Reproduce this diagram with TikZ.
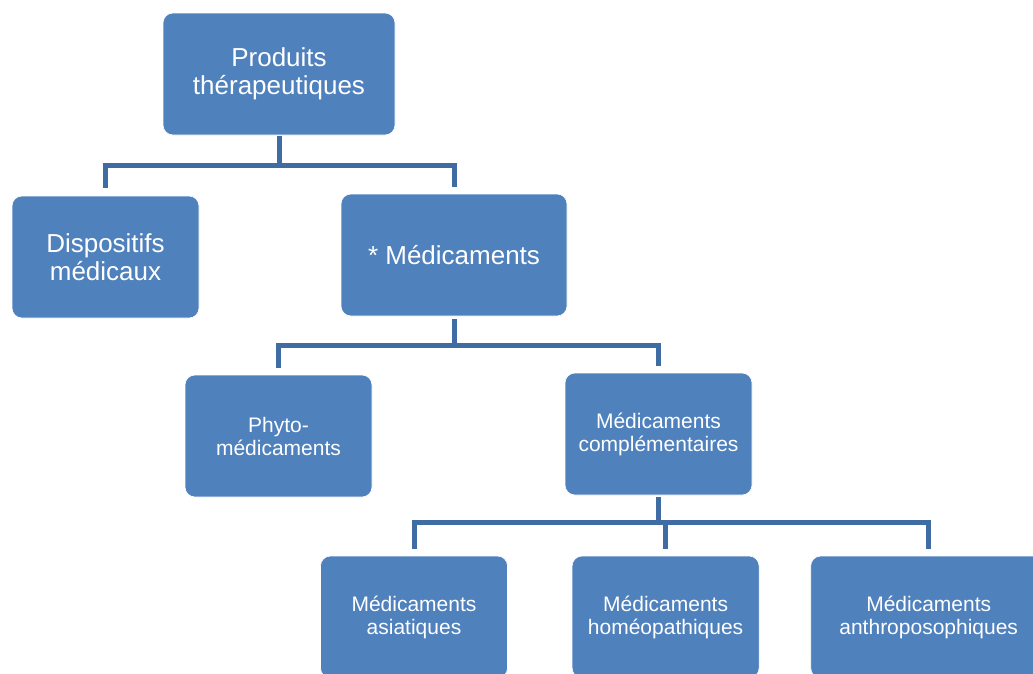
\documentclass[tikz,border=0pt]{standalone}
\usepackage{fontspec}
\setmainfont{Liberation Sans}
\usepackage{tikz}
\usetikzlibrary{positioning}
\definecolor{boxblue}{RGB}{79,129,189}
\definecolor{linkblue}{RGB}{64,108,164}

\begin{document}
\begin{tikzpicture}[x=1pt,y=-1pt,node distance = 60pt,line width=5pt]
\tikzstyle{v}=[draw=white,line width=0.6pt,fill=boxblue,text=white,rounded corners=10pt,
  align=center,inner sep=0pt,minimum height=122pt,minimum width=187pt]
\tikzstyle{big}=[v,font=\fontsize{26}{28}\selectfont]
\tikzstyle{small}=[v,font=\fontsize{21}{23}\selectfont]
\tikzstyle{link}=[draw=linkblue,line cap=butt]
\useasboundingbox (0,0) rectangle (1033,673);
\clip (0,0) rectangle (1033,673);
\node[big,minimum width=232pt]	(prod)	at (279,74)		{Produits\\thérapeutiques};
\node[big]	(disp)	at (105.5,257)		{Dispositifs\\médicaux};
\node[big,minimum width=226pt]	(med)	at (454,255)		{* Médicaments};
\node[small]	(phyto)	at (278.5,436)		{Phyto-\\médicaments};
\node[small]	(compl)	at (658.5,434)		{Médicaments\\complémentaires};
\node[small]	(asia)	at (414,617)		{Médicaments\\asiatiques};
\node[small]	(homeo)	[right=64pt of asia]	{Médicaments\\homéopathiques};
\node[small,minimum width=236pt]	(anthro)	[right=51pt of homeo]	{Médicaments\\anthroposophiques};
\path[link] (prod.south) edge[shorten <=1pt] ++(0,31)
  (prod.south) ++(0,30) coordinate (b1)
  (compl.south) ++(0,27) coordinate (b3)
  (med.south) ++(0,29) coordinate (b2);
\draw[link,shorten >=8pt] (b1) -| (disp.north);
\draw[link,shorten >=7pt] (b1) -| (med.north);
\draw[link,shorten <=3pt] (med.south) -- ++(0,30);
\draw[link,shorten >=7pt] (b2) -| (phyto.north);
\draw[link,shorten >=7pt] (b2) -| (compl.north);
\draw[link,shorten <=2pt] (compl.south) -- ++(0,28);
\draw[link,shorten >=7pt] (b3) -| (asia.north);
\draw[link,shorten >=7pt] (b3) -| (homeo.north);
\draw[link,shorten >=7pt] (b3) -| (anthro.north);
\end{tikzpicture}
\end{document}
